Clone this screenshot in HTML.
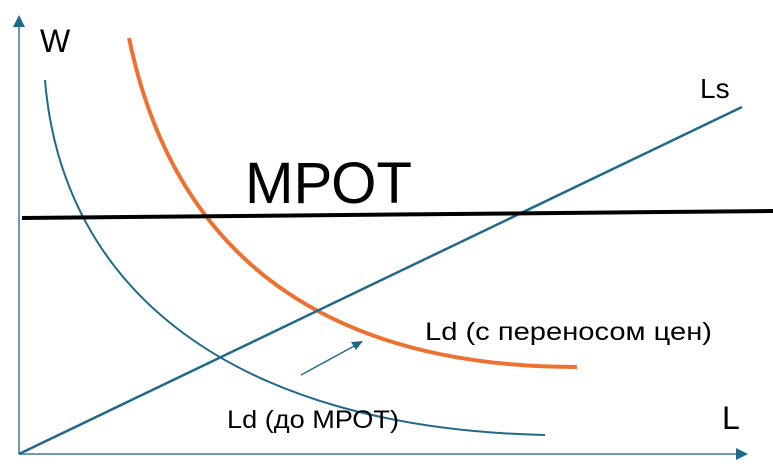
<!DOCTYPE html>
<html><head><meta charset="utf-8"><style>body{margin:0;background:#fff}svg{display:block}text{font-family:"Liberation Sans","DejaVu Sans",sans-serif;fill:#000}</style></head>
<body><svg width="773" height="468" viewBox="0 0 773 468">
<line x1="19" y1="454" x2="19" y2="26" stroke="#6f9ab4" stroke-width="2"/>
<polygon points="19,15 13,27 25,27" fill="#1f6a8a"/>
<line x1="19" y1="454" x2="738" y2="454" stroke="#6f9ab4" stroke-width="2"/>
<polygon points="748,454 736,448 736,460" fill="#1f6a8a"/>
<path d="M45,80 C62,290 232,428 545,435" fill="none" stroke="#1f6a8a" stroke-width="2"/>
<path d="M129,38 C178,275 348,367 577,367" fill="none" stroke="#ed7131" stroke-width="4"/>
<line x1="19" y1="454" x2="742" y2="107" stroke="#1f6a8a" stroke-width="2.5"/>
<line x1="22" y1="218" x2="773" y2="211" stroke="#000" stroke-width="4"/>
<line x1="301" y1="375" x2="356" y2="345" stroke="#1f6a8a" stroke-width="1.5"/>
<polygon points="363,341 351,342 356,350" fill="#1f6a8a"/>
<text x="40" y="52" font-size="32">W</text>
<text x="245" y="203" font-size="58" textLength="167" lengthAdjust="spacingAndGlyphs">МРОТ</text>
<text x="700" y="98" font-size="28">Ls</text>
<text x="425" y="340" font-size="25" textLength="287" lengthAdjust="spacingAndGlyphs">Ld (с переносом цен)</text>
<text x="227" y="428" font-size="25" textLength="172" lengthAdjust="spacingAndGlyphs">Ld (до МРОТ)</text>
<text x="722" y="429" font-size="32">L</text>
</svg></body></html>
